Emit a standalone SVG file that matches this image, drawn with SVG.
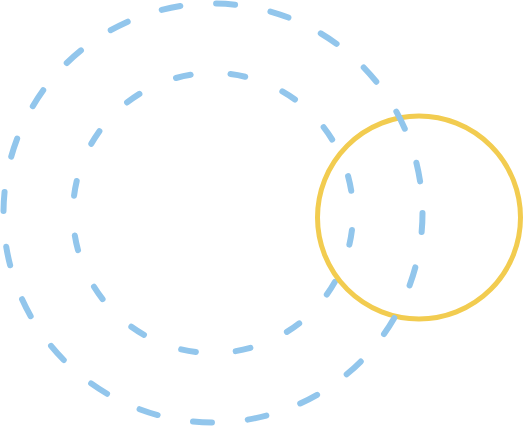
<svg xmlns="http://www.w3.org/2000/svg" width="523" height="427" viewBox="0 0 523 427">
<style>
.b{fill:none;stroke:#92C6EC;stroke-width:6;stroke-linecap:round}
.y{fill:none;stroke:#F2CC50;stroke-width:5}
</style>
<rect width="523" height="427" fill="#fff"/>
<g id="inner"><circle class="b" cx="213" cy="213" r="140" stroke-dasharray="15 40" stroke-dashoffset="38"/></g>
<g id="yellow"><circle class="y" cx="419" cy="217.5" r="101.5"/></g>
<g id="outer"><circle class="b" cx="213" cy="213" r="209.5" stroke-dasharray="19 36" stroke-dashoffset="0"/></g>
</svg>
